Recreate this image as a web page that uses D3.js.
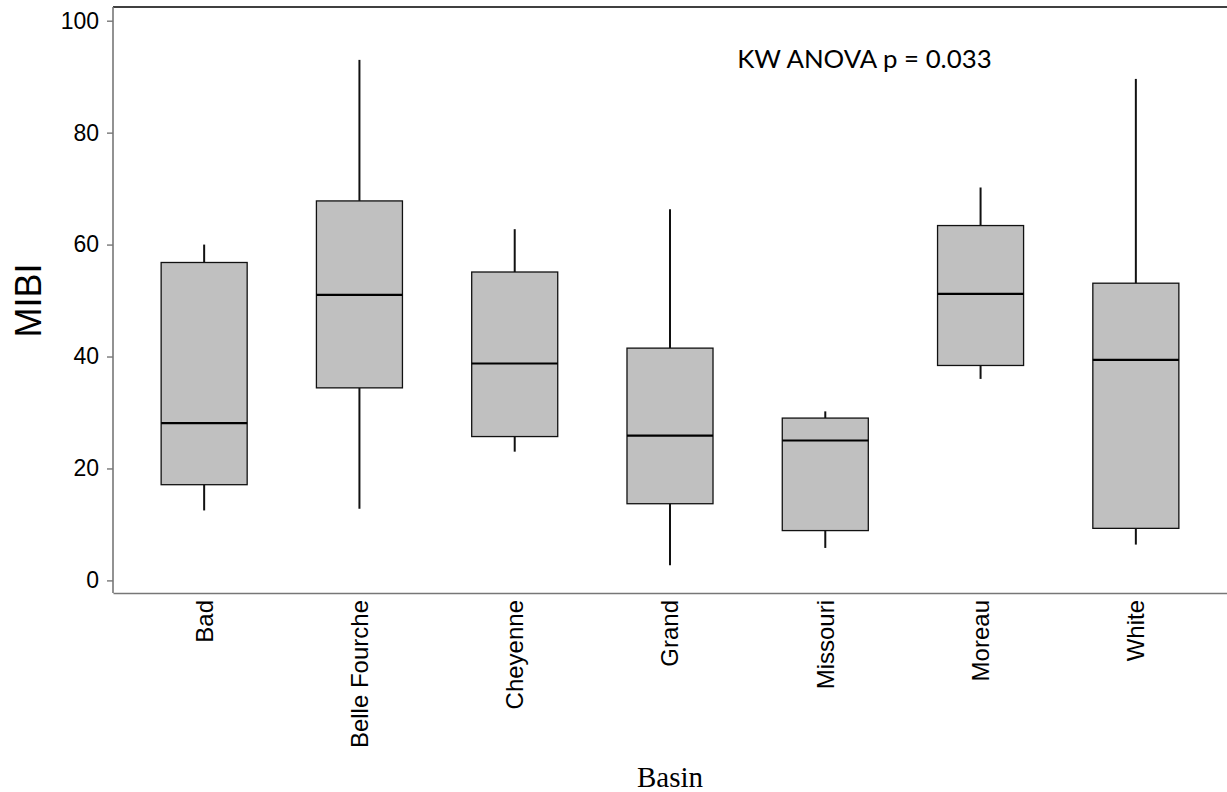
<!DOCTYPE html>
<html>
<head>
<meta charset="utf-8">
<script src="https://cdn.jsdelivr.net/npm/d3@7"></script>
<style>
  body { margin: 0; background: #fff; }
</style>
</head>
<body>
<div id="chart"></div>
<script>
// data
var basins = ["Bad", "Belle Fourche", "Cheyenne", "Grand", "Missouri", "Moreau", "White"];
var whiskerLow = [12.5, 12.8, 23.0, 2.7, 5.8, 36.0, 6.4];
var q1 = [17.1, 34.4, 25.7, 13.7, 8.9, 38.4, 9.3];
var medians = [28.1, 51.0, 38.75, 25.85, 25.0, 51.2, 39.4];
var q3 = [56.8, 67.8, 55.1, 41.5, 29.0, 63.4, 53.1];
var whiskerHigh = [60.0, 93.0, 62.75, 66.3, 30.2, 70.2, 89.6];
var yTicks = [0, 20, 40, 60, 80, 100];
var annotation = "KW ANOVA p = 0.033";

var svgWidth = 1227;
var svgHeight = 792;

var margin = {
  top: 7,
  right: 0,
  bottom: 199,
  left: 113
};

var width = svgWidth - margin.left - margin.right;
var height = svgHeight - margin.top - margin.bottom;

var svg = d3
  .select("#chart")
  .append("svg")
  .attr("width", svgWidth)
  .attr("height", svgHeight);

var chartGroup = svg.append("g")
  .attr("transform", `translate(${margin.left}, ${margin.top})`);

var boxes = basins.map(function(b, i) {
  return {
    basin: b,
    lo: whiskerLow[i],
    q1: q1[i],
    med: medians[i],
    q3: q3[i],
    hi: whiskerHigh[i]
  };
});

var xBandScale = d3.scaleBand()
  .domain(basins)
  .range([0, width])
  .paddingInner(0.446)
  .paddingOuter(0.31);

// 0 sits 12.6px above the bottom axis line, 100 sits 13.7px below the top
var yLinearScale = d3.scaleLinear()
  .domain([0, 100])
  .range([height - 12.6, 13.7]);

// frame: top line
chartGroup.append("line")
  .attr("x1", 0)
  .attr("x2", width)
  .attr("y1", 0)
  .attr("y2", 0)
  .attr("stroke", "#000")
  .attr("stroke-width", 1.5);

var leftAxis = d3.axisLeft(yLinearScale)
  .tickValues(yTicks)
  .tickSize(6)
  .tickPadding(8)
  .tickSizeOuter(0);

var yAxis = chartGroup.append("g")
  .call(leftAxis);

yAxis.select(".domain")
  .attr("d", `M0,0V${height}`)
  .attr("stroke", "#777")
  .attr("stroke-width", 1.6);

yAxis.selectAll(".tick line")
  .attr("stroke", "#777")
  .attr("stroke-width", 1.4);

yAxis.selectAll(".tick text")
  .attr("font-family", "'Liberation Sans', Arial, sans-serif")
  .attr("font-size", "23px")
  .attr("fill", "#000");

var bottomAxis = d3.axisBottom(xBandScale)
  .tickSize(0)
  .tickSizeOuter(0);

var xAxis = chartGroup.append("g")
  .attr("transform", `translate(0, ${height})`)
  .call(bottomAxis);

xAxis.select(".domain")
  .attr("stroke", "#777")
  .attr("stroke-width", 1.6);

xAxis.selectAll(".tick text")
  .attr("font-family", "'Liberation Sans', Arial, sans-serif")
  .attr("font-size", "24px")
  .attr("fill", "#000")
  .attr("text-anchor", "end")
  .attr("transform", "rotate(-90)")
  .attr("x", -7)
  .attr("y", 0)
  .attr("dy", "0.35em");

// box plots
var boxGroup = chartGroup.selectAll(".box")
  .data(boxes)
  .enter()
  .append("g")
  .attr("class", "box");

var bw = xBandScale.bandwidth();

boxGroup.append("line")
  .attr("x1", d => xBandScale(d.basin) + bw / 2)
  .attr("x2", d => xBandScale(d.basin) + bw / 2)
  .attr("y1", d => yLinearScale(d.q3))
  .attr("y2", d => yLinearScale(d.hi))
  .attr("stroke", "#111")
  .attr("stroke-width", 2);

boxGroup.append("line")
  .attr("x1", d => xBandScale(d.basin) + bw / 2)
  .attr("x2", d => xBandScale(d.basin) + bw / 2)
  .attr("y1", d => yLinearScale(d.q1))
  .attr("y2", d => yLinearScale(d.lo))
  .attr("stroke", "#111")
  .attr("stroke-width", 2);

boxGroup.append("rect")
  .attr("x", d => xBandScale(d.basin))
  .attr("y", d => yLinearScale(d.q3))
  .attr("width", bw)
  .attr("height", d => yLinearScale(d.q1) - yLinearScale(d.q3))
  .attr("fill", "#c0c0c0")
  .attr("stroke", "#111")
  .attr("stroke-width", 1.3);

boxGroup.append("line")
  .attr("x1", d => xBandScale(d.basin))
  .attr("x2", d => xBandScale(d.basin) + bw)
  .attr("y1", d => yLinearScale(d.med))
  .attr("y2", d => yLinearScale(d.med))
  .attr("stroke", "#000")
  .attr("stroke-width", 2.2);

// annotation
chartGroup.append("text")
  .attr("x", xBandScale("Missouri") - 45)
  .attr("y", yLinearScale(91.5))
  .attr("font-family", "Lato, 'Open Sans', sans-serif")
  .attr("font-size", "25.8px")
  .attr("fill", "#000")
  .text(annotation);

// axis titles
svg.append("text")
  .attr("transform", `translate(41, ${margin.top + (yLinearScale(0) + yLinearScale(100)) / 2 + 0}) rotate(-90)`)
  .attr("text-anchor", "middle")
  .attr("font-family", "'Liberation Sans', Arial, sans-serif")
  .attr("font-size", "36px")
  .attr("fill", "#000")
  .text("MIBI");

svg.append("text")
  .attr("x", margin.left + width / 2)
  .attr("y", 787)
  .attr("text-anchor", "middle")
  .attr("font-family", "'Liberation Serif', 'Times New Roman', serif")
  .attr("font-size", "29px")
  .attr("fill", "#000")
  .text("Basin");
</script>
</body>
</html>
